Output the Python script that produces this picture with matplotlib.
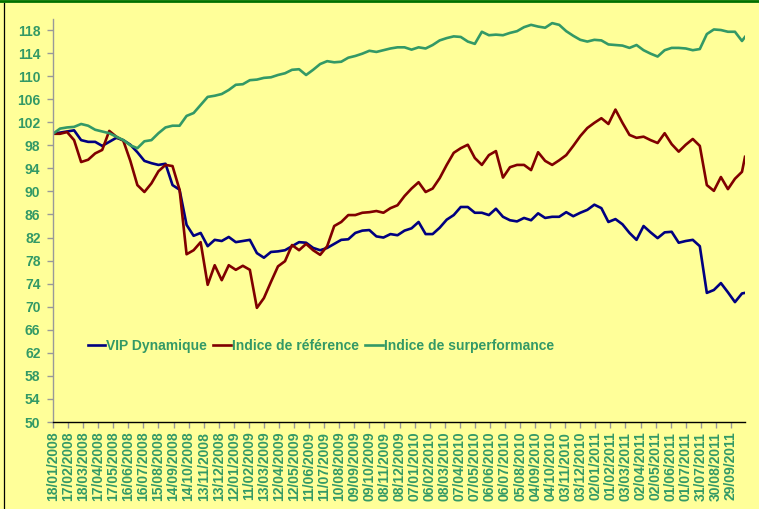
import matplotlib
matplotlib.use("Agg")
import matplotlib.pyplot as plt
import matplotlib.dates as mdates
from matplotlib.lines import Line2D
import pandas as pd

# ---- data -------------------------------------------------------------
start_date = "2008-01-18"
n_biweekly = 99
last_date = "2011-10-27"
dates = list(pd.date_range(start_date, periods=n_biweekly, freq="14D")) + [pd.Timestamp(last_date)]

vip_dynamique = [
    100.0, 100.2, 100.4, 100.6, 98.9, 98.6, 98.6, 97.9, 98.6, 99.3,
    98.9, 98.1, 96.8, 95.3, 94.9, 94.6, 94.8, 91.1, 90.3, 84.2,
    82.3, 82.8, 80.5, 81.6, 81.4, 82.1, 81.2, 81.4, 81.6, 79.3,
    78.5, 79.5, 79.6, 79.8, 80.5, 81.2, 81.1, 80.2, 79.8, 80.2,
    80.9, 81.6, 81.7, 82.8, 83.2, 83.3, 82.2, 82.0, 82.6, 82.4,
    83.2, 83.6, 84.7, 82.6, 82.6, 83.7, 85.1, 85.9, 87.3, 87.3,
    86.3, 86.3, 85.9, 87.0, 85.6, 85.0, 84.8, 85.4, 85.0, 86.2,
    85.4, 85.6, 85.6, 86.4, 85.7, 86.3, 86.8, 87.7, 87.1, 84.7,
    85.2, 84.3, 82.8, 81.6, 84.0, 82.9, 81.9, 82.9, 83.0, 81.1,
    81.4, 81.6, 80.5, 72.4, 72.9, 74.1, 72.5, 70.8, 72.3, 72.4,
]

indice_reference = [
    100.0, 100.0, 100.3, 98.9, 95.1, 95.5, 96.6, 97.2, 100.5, 99.5,
    98.8, 95.3, 91.1, 89.9, 91.4, 93.5, 94.6, 94.4, 90.3, 79.1,
    79.8, 81.2, 73.8, 77.2, 74.6, 77.2, 76.4, 77.1, 76.4, 69.8,
    71.5, 74.3, 77.0, 77.9, 80.7, 79.8, 80.9, 79.8, 79.0, 80.5,
    84.0, 84.7, 85.9, 85.9, 86.3, 86.4, 86.6, 86.3, 87.1, 87.6,
    89.2, 90.5, 91.6, 89.9, 90.5, 92.3, 94.6, 96.7, 97.5, 98.1,
    95.8, 94.6, 96.3, 97.0, 92.4, 94.2, 94.6, 94.6, 93.7, 96.8,
    95.3, 94.6, 95.4, 96.3, 97.9, 99.6, 101.0, 101.9, 102.7, 101.7,
    104.2, 101.9, 99.8, 99.3, 99.5, 98.9, 98.4, 100.1, 98.2, 96.9,
    98.1, 99.1, 97.9, 91.1, 90.1, 92.5, 90.4, 92.2, 93.4, 96.0,
]

indice_surperformance = [
    100.0, 100.9, 101.1, 101.2, 101.7, 101.4, 100.7, 100.4, 100.1, 99.5,
    98.9, 98.0, 97.5, 98.7, 98.9, 100.1, 101.1, 101.4, 101.4, 103.1,
    103.6, 105.0, 106.4, 106.6, 106.9, 107.6, 108.5, 108.6, 109.3, 109.4,
    109.7, 109.8, 110.2, 110.5, 111.1, 111.2, 110.2, 111.1, 112.1, 112.6,
    112.4, 112.5, 113.2, 113.5, 113.9, 114.4, 114.2, 114.5, 114.8, 115.0,
    115.0, 114.6, 115.0, 114.8, 115.4, 116.2, 116.6, 116.9, 116.8, 116.0,
    115.6, 117.7, 117.1, 117.2, 117.1, 117.5, 117.8, 118.5, 118.9, 118.6,
    118.4, 119.2, 118.9, 117.8, 117.0, 116.3, 116.0, 116.3, 116.2, 115.5,
    115.4, 115.3, 114.9, 115.4, 114.5, 113.9, 113.4, 114.5, 114.9, 114.9,
    114.8, 114.5, 114.7, 117.3, 118.1, 118.0, 117.7, 117.7, 116.1, 116.8,
]

series_names = ["VIP Dynamique", "Indice de référence", "Indice de surperformance"]
series_colors = ["#000080", "#800000", "#339966"]

y_ticks = list(range(50, 119, 4))
tick_start = "2008-01-18"
n_ticks = 46

# ---- style ------------------------------------------------------------
bg = "#FFFF99"
txt_green = "#339966"
plt.rcParams["font.family"] = ["Liberation Sans", "DejaVu Sans"]
plt.rcParams["font.weight"] = "bold"

W, H = 759, 509
fig = plt.figure(figsize=(W / 100, H / 100), dpi=100, facecolor=bg)
ax_left, ax_right, ax_top, ax_bot = 53, 745, 18.5, 422
ax = fig.add_axes([ax_left / W, (H - ax_bot) / H, (ax_right - ax_left) / W, (ax_bot - ax_top) / H])
ax.set_facecolor(bg)

for vals, name, col in zip([vip_dynamique, indice_reference, indice_surperformance], series_names, series_colors):
    ax.plot(dates, vals, color=col, lw=1.9, label=name, solid_joinstyle="round")

ax.set_ylim(50, 120)
ax.set_yticks(y_ticks)
ax.set_xlim(pd.Timestamp(start_date), pd.Timestamp(last_date))
tick_dates = pd.date_range(tick_start, periods=n_ticks, freq="30D")
ax.set_xticks(tick_dates)
ax.set_xticklabels([d.strftime("%d/%m/%Y") for d in tick_dates], rotation=90)

for s in ["top", "right"]:
    ax.spines[s].set_visible(False)
ax.spines["left"].set_color("#999999")
ax.spines["left"].set_linewidth(1.0)
ax.spines["bottom"].set_color("black")
ax.spines["bottom"].set_linewidth(1.0)

ax.tick_params(axis="y", direction="out", length=4, width=1, color="#999999",
               labelcolor=txt_green, labelsize=10, pad=5)
ax.tick_params(axis="x", direction="out", length=4, width=1, color="#999999",
               labelcolor=txt_green, labelsize=10, pad=3)
for lab in ax.get_xticklabels() + ax.get_yticklabels():
    lab.set_fontweight("bold")

leg = ax.legend(loc="center left", bbox_to_anchor=(0.05, 0.188), ncol=3, frameon=False,
                handlelength=1.25, handletextpad=0.1, columnspacing=0.45, borderpad=0,
                borderaxespad=0, prop={"weight": "bold", "size": 10})
for t in leg.get_texts():
    t.set_color(txt_green)

# outer frame lines of the original picture
fig.add_artist(Line2D([0, 1], [1 - 1.3 / H, 1 - 1.3 / H], transform=fig.transFigure, color="#007000", lw=2.0))
fig.add_artist(Line2D([3.5 / W, 3.5 / W], [0, 1 - 2.5 / H], transform=fig.transFigure, color="black", lw=0.9))

fig.savefig("out.png", dpi=100, facecolor=bg)
